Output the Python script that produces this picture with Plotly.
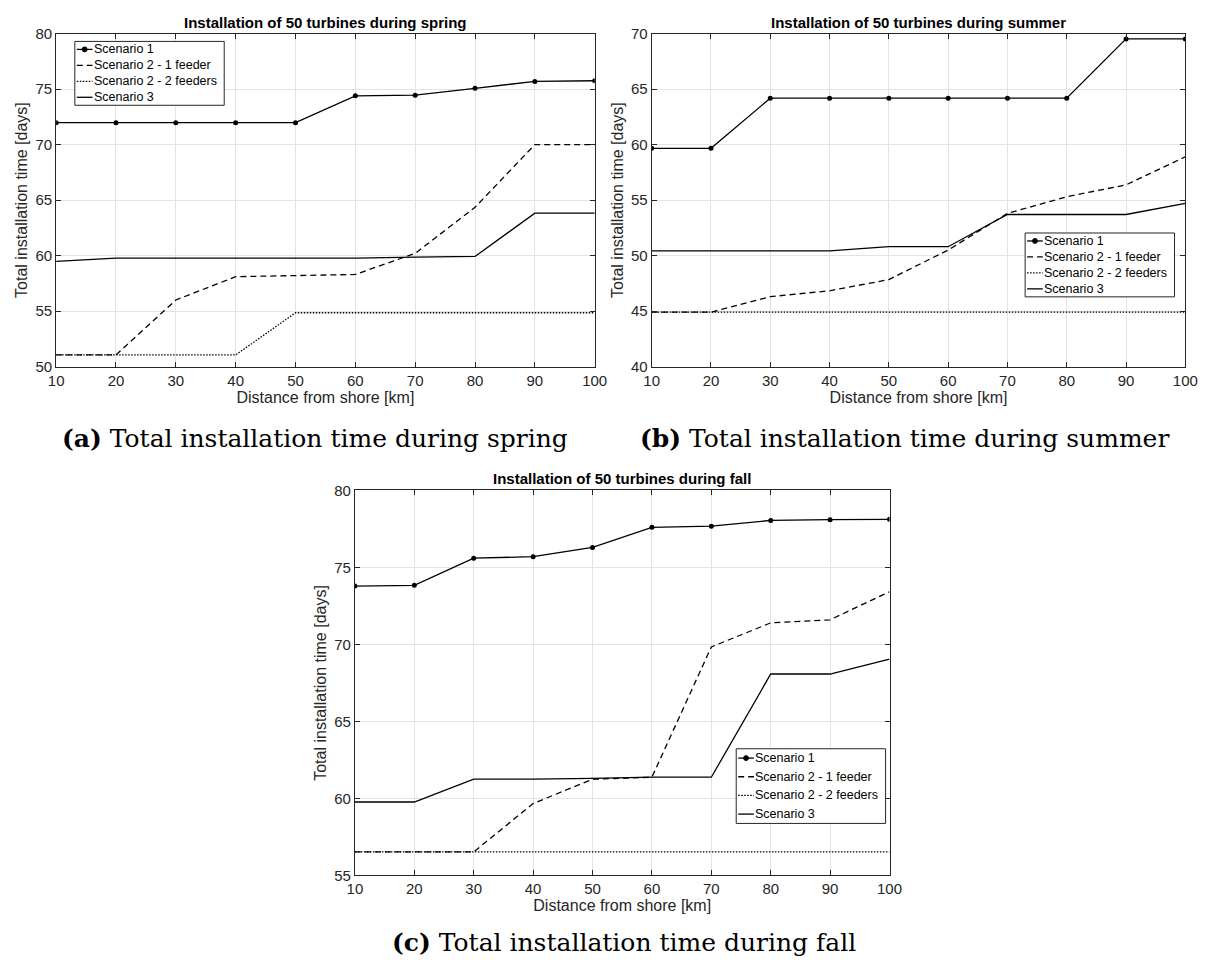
import plotly.graph_objects as go

W, H = 1217, 967

distance_km = [10, 20, 30, 40, 50, 60, 70, 80, 90, 100]

series_names = ["Scenario 1", "Scenario 2 - 1 feeder", "Scenario 2 - 2 feeders", "Scenario 3"]

# spring
spring_s1 = [71.97, 71.97, 71.97, 71.97, 71.97, 74.39, 74.45, 75.07, 75.69, 75.75]
spring_s2_1 = [51.05, 51.05, 56.0, 58.1, 58.2, 58.3, 60.2, 64.35, 70.0, 70.0]
spring_s2_2 = [51.05, 51.05, 51.05, 51.05, 54.85, 54.85, 54.85, 54.85, 54.85, 54.85]
spring_s3 = [59.48, 59.77, 59.77, 59.77, 59.77, 59.77, 59.86, 59.92, 63.82, 63.82]

# summer
summer_s1 = [59.66, 59.66, 64.18, 64.18, 64.18, 64.18, 64.18, 64.18, 69.52, 69.52]
summer_s2_1 = [44.9, 44.9, 46.3, 46.83, 47.84, 50.5, 53.8, 55.3, 56.37, 58.9]
summer_s2_2 = [44.9, 44.9, 44.9, 44.9, 44.9, 44.9, 44.9, 44.9, 44.9, 44.9]
summer_s3 = [50.42, 50.42, 50.42, 50.42, 50.8, 50.8, 53.7, 53.7, 53.7, 54.7]

# fall
fall_s1 = [73.79, 73.84, 75.6, 75.7, 76.3, 77.6, 77.68, 78.05, 78.1, 78.12]
fall_s2_1 = [56.53, 56.53, 56.53, 59.67, 61.25, 61.38, 69.84, 71.4, 71.6, 73.42]
fall_s2_2 = [56.53, 56.53, 56.53, 56.53, 56.53, 56.53, 56.53, 56.53, 56.53, 56.53]
fall_s3 = [59.77, 59.77, 61.25, 61.25, 61.3, 61.38, 61.38, 68.08, 68.08, 69.05]

panel_titles = [
    "Installation of 50 turbines during spring",
    "Installation of 50 turbines during summer",
    "Installation of 50 turbines during fall",
]
captions = [
    ("(a)", "Total installation time during spring"),
    ("(b)", "Total installation time during summer"),
    ("(c)", "Total installation time during fall"),
]
y_ranges = [(50, 80), (40, 70), (55, 80)]

panels = [
    [spring_s1, spring_s2_1, spring_s2_2, spring_s3],
    [summer_s1, summer_s2_1, summer_s2_2, summer_s3],
    [fall_s1, fall_s2_1, fall_s2_2, fall_s3],
]

# pixel boxes of the three plot areas: left, right, top, bottom
boxes = [(49, 597, 25, 364), (655, 1198, 25, 364), (353, 897, 490, 882)]
# legend boxes: left, top, width, height
legend_boxes = [(68, 33, 152, 65), (1035, 228, 152, 65), (741, 753, 152, 76)]
# caption centres
caption_pos = [(312, 437), (912, 437), (627, 950)]

INK = "#262626"
FONT = "Liberation Sans, Arial, sans-serif"
DASHES = ["solid", "6px,4px", "1.5px,1.5px", "solid"]
LW = 1.3

fig = go.Figure()
layout = dict(
    width=W, height=H,
    margin=dict(l=0, r=0, t=0, b=0),
    paper_bgcolor="white", plot_bgcolor="white",
    font=dict(family=FONT, color=INK, size=13),
    showlegend=False,
    annotations=[], shapes=[],
)


def px_x(v):
    return v / W


def px_y(v):
    return 1 - v / H


for i, data in enumerate(panels):
    n = "" if i == 0 else str(i + 1)
    for k, (name, ys) in enumerate(zip(series_names, data)):
        kw = dict(mode="lines", line=dict(color="black", width=LW, dash=DASHES[k]))
        if k == 0:
            kw = dict(mode="lines+markers", line=dict(color="black", width=LW, dash="solid"),
                      marker=dict(symbol="circle", size=5, color="black"))
        fig.add_trace(go.Scatter(x=distance_km, y=ys, name=name,
                                 xaxis=f"x{n}", yaxis=f"y{n}", **kw))
    l, r, t, b = boxes[i]
    axis_common = dict(
        showline=True, linecolor=INK, linewidth=1, mirror="allticks",
        ticks="inside", ticklen=5, tickcolor=INK,
        showgrid=True, gridcolor="#e3e3e3", gridwidth=1,
        zeroline=False, tickfont=dict(size=15, color=INK, family=FONT),
    )
    layout[f"xaxis{n}"] = dict(
        domain=[px_x(l), px_x(r)], anchor=f"y{n}", range=[10, 100],
        tickvals=distance_km,
        title=dict(text="Distance from shore [km]", font=dict(size=16, color=INK), standoff=2),
        **axis_common,
    )
    layout[f"yaxis{n}"] = dict(
        domain=[px_y(b), px_y(t)], anchor=f"x{n}", range=list(y_ranges[i]), dtick=5,
        title=dict(text="Total installation time [days]", font=dict(size=16, color=INK), standoff=3),
        **axis_common,
    )
    # panel title
    layout["annotations"].append(dict(
        text=f"<b>{panel_titles[i]}</b>", x=(px_x(l) + px_x(r)) / 2, y=px_y(t - 1),
        xref="paper", yref="paper", xanchor="center", yanchor="bottom",
        showarrow=False, font=dict(size=15, color="black", family=FONT),
    ))
    # caption below the panel
    cx, cy = caption_pos[i]
    tag, txt = captions[i]
    layout["annotations"].append(dict(
        text=f"<b>{tag}</b> {txt}", x=px_x(cx), y=px_y(cy),
        xref="paper", yref="paper", xanchor="center", yanchor="middle",
        showarrow=False, font=dict(size=25, color="black", family="DejaVu Serif, Liberation Serif, serif"),
    ))
    # legend box with line samples
    lx, ly, lw, lh = legend_boxes[i]
    layout["shapes"].append(dict(
        type="rect", xref="paper", yref="paper",
        x0=px_x(lx), x1=px_x(lx + lw), y0=px_y(ly + lh), y1=px_y(ly),
        line=dict(color=INK, width=1), fillcolor="white", layer="above",
    ))
    row = lh / 4
    for k, name in enumerate(series_names):
        yc = ly + row * (k + 0.5)
        layout["shapes"].append(dict(
            type="line", xref="paper", yref="paper",
            x0=px_x(lx + 2), x1=px_x(lx + 18), y0=px_y(yc), y1=px_y(yc),
            line=dict(color="black", width=LW, dash=DASHES[k]), layer="above",
        ))
        if k == 0:
            layout["shapes"].append(dict(
                type="circle", xref="paper", yref="paper",
                x0=px_x(lx + 7.5), x1=px_x(lx + 12.5), y0=px_y(yc + 2.5), y1=px_y(yc - 2.5),
                line=dict(color="black", width=1), fillcolor="black", layer="above",
            ))
        layout["annotations"].append(dict(
            text=name, x=px_x(lx + 17), y=px_y(yc),
            xref="paper", yref="paper", xanchor="left", yanchor="middle",
            showarrow=False, font=dict(size=12.5, color="black", family=FONT),
        ))

fig.update_layout(**layout)
fig.write_html("out.html")
